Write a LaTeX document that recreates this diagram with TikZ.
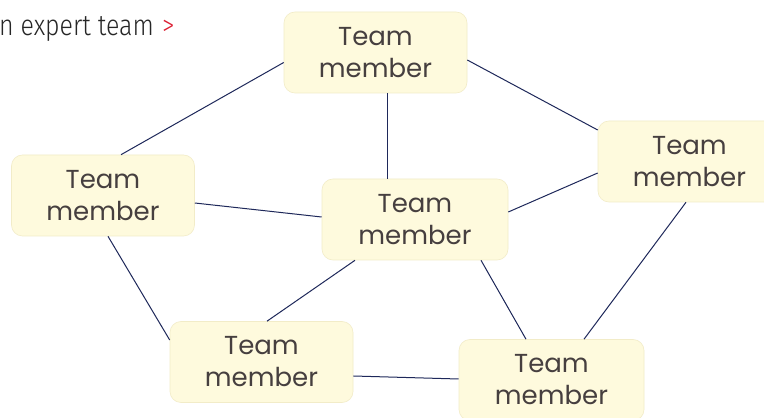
\documentclass[tikz,border=0pt]{standalone}
\usepackage{fontspec}
\setmainfont{Poppins}
\newfontfamily\condfont[FakeStretch=0.86]{Fira Sans Light}
\definecolor{boxfill}{RGB}{254,250,221}
\definecolor{boxline}{RGB}{242,236,200}
\definecolor{txt}{RGB}{70,63,63}
\definecolor{edge}{RGB}{30,40,90}
\definecolor{redmark}{RGB}{220,30,50}
\tikzset{
  member/.style={draw=boxline, line width=0.6pt, fill=boxfill, rounded corners=11pt,
    minimum width=183pt, minimum height=81pt, align=center, text=txt,
    font=\fontsize{26}{32}\selectfont, inner sep=0pt},
  link/.style={draw=edge, line width=1pt},
  headline/.style={inner sep=0pt, font=\condfont\fontsize{29}{32}\selectfont}
}
\begin{document}
\begin{tikzpicture}[x=1pt,y=1pt]
\useasboundingbox (0,0) rectangle (764,418);
\clip (0,0) rectangle (764,418);
\fill[white] (0,0) rectangle (764,418);
\node[headline, anchor=base east, text=black!85] (title) at (154,382) {n expert team};
\node[headline, anchor=base west, text=redmark] (arrow) at (162,382) {>};
\node[member] (top) at (375.5,365.5) {Team\\member};
\node[member] (right) at (689.5,256.5) {Team\\member};
\node[member] (left) at (103,222.5) {Team\\member};
\node[member, minimum width=186pt] (center) at (415,198.5) {Team\\member};
\node[member] (bl) at (261.5,56) {Team\\member};
\node[member, minimum width=185pt] (br) at (551.5,38) {Team\\member};
\draw[link] ([yshift=-10pt]top.west) -- ([xshift=18pt]left.north);
\draw[link] ([xshift=11.5pt]top.south) -- ([xshift=-28pt]center.north);
\draw[link] ([yshift=-7.5pt]top.east) -- ([yshift=31.5pt]right.west);
\draw[link] ([yshift=-7.5pt]left.east) -- ([yshift=2.5pt]center.west);
\draw[link] ([yshift=7.5pt]center.east) -- ([yshift=-11.5pt]right.west);
\draw[link] ([xshift=5pt]left.south) -- ([yshift=22pt]bl.west);
\draw[link] ([xshift=-60pt]center.south) -- ([xshift=5.5pt]bl.north);
\draw[link] ([xshift=66pt]center.south) -- ([xshift=-25.5pt]br.north);
\draw[link] ([xshift=-3.5pt]right.south) -- ([xshift=32.5pt]br.north);
\draw[link] ([yshift=-14pt]bl.east) -- ([yshift=1pt]br.west);
\end{tikzpicture}
\end{document}
